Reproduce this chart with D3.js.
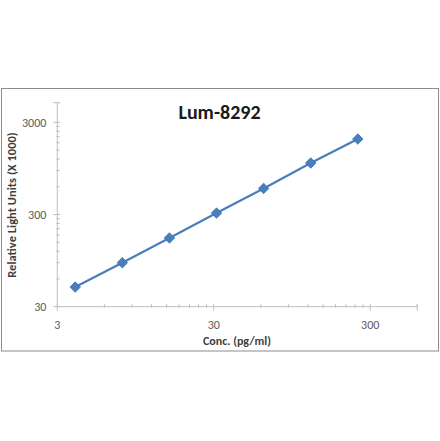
<!DOCTYPE html>
<html>
<head>
<meta charset="utf-8">
<script src="https://cdn.jsdelivr.net/npm/d3@7"></script>
<style>
  body { margin: 0; background: #fff; }
  text { font-family: Carlito, "Open Sans", "Liberation Sans", sans-serif; }
</style>
</head>
<body>
<div id="chart"></div>
<script>
const title = "Lum-8292";
const xLabel = "Conc. (pg/ml)";
const yLabel = "Relative Light Units (X 1000)";
const conc = [3.90625, 7.8125, 15.625, 31.25, 62.5, 125, 250];
const rlu = [49, 90, 167, 311, 576, 1086, 1976];
const xTicks = [3, 30, 300];
const yTicks = [30, 300, 3000];

const width = 440, height = 441;

const svg = d3.select("#chart").append("svg")
    .attr("width", width)
    .attr("height", height);

// outer frame
svg.append("rect")
    .attr("x", 1.5).attr("y", 88.5)
    .attr("width", 437).attr("height", 262.5)
    .attr("fill", "none")
    .attr("stroke", "#8c8c8c")
    .attr("stroke-width", 1);

const x = d3.scaleLog().domain([3, 600]).range([57.3, 417.3]);
const y = d3.scaleLog().domain([30, 4900]).range([306.7, 102.7]);

const axisColor = "#bfbfbf";
const labelColor = "#595959";

// x axis
const gx = svg.append("g");
gx.append("line")
    .attr("x1", x(3)).attr("x2", x(600))
    .attr("y1", y(30)).attr("y2", y(30))
    .attr("stroke", axisColor);
// minor ticks: multiples of the base in each decade
const xMinorTicks = [];
[3, 30, 300].forEach(b => { for (let k = 2; k <= 9; k++) if (b * k <= 600) xMinorTicks.push(b * k); });
gx.selectAll(".minor").data(xMinorTicks).enter().append("line")
    .attr("x1", d => x(d)).attr("x2", d => x(d))
    .attr("y1", y(30) - 2.5).attr("y2", y(30) + 1)
    .attr("stroke", axisColor);
gx.selectAll(".major").data(xTicks.concat([600])).enter().append("line")
    .attr("x1", d => x(d)).attr("x2", d => x(d))
    .attr("y1", y(30) - 3).attr("y2", y(30) + 4)
    .attr("stroke", axisColor);
gx.selectAll(".lab").data(xTicks).enter().append("text")
    .attr("x", d => x(d)).attr("y", y(30) + 22)
    .attr("text-anchor", "middle")
    .attr("font-size", 12)
    .attr("fill", labelColor)
    .text(d => d);

// y axis
const gy = svg.append("g");
gy.append("line")
    .attr("x1", x(3)).attr("x2", x(3))
    .attr("y1", y(30)).attr("y2", y(4900))
    .attr("stroke", axisColor);
const yMinorTicks = [];
[30, 300, 3000].forEach(b => { for (let k = 2; k <= 9; k++) if (b * k <= 4900) yMinorTicks.push(b * k); });
gy.selectAll(".minor").data(yMinorTicks).enter().append("line")
    .attr("x1", x(3) - 1).attr("x2", x(3) + 2.5)
    .attr("y1", d => y(d)).attr("y2", d => y(d))
    .attr("stroke", axisColor);
gy.selectAll(".major").data(yTicks.concat([4900])).enter().append("line")
    .attr("x1", x(3) - 4).attr("x2", x(3) + 3)
    .attr("y1", d => y(d)).attr("y2", d => y(d))
    .attr("stroke", axisColor);
gy.selectAll(".lab").data(yTicks).enter().append("text")
    .attr("x", x(3) - 11).attr("y", d => y(d))
    .attr("dy", "0.35em")
    .attr("text-anchor", "end")
    .attr("font-size", 12)
    .attr("fill", labelColor)
    .text(d => d);

// series
const pts = conc.map((c, i) => [c, rlu[i]]);
const line = d3.line().x(d => x(d[0])).y(d => y(d[1]));
svg.append("path")
    .datum(pts)
    .attr("d", line)
    .attr("fill", "none")
    .attr("stroke", "#4a7ebb")
    .attr("stroke-width", 2.2);

svg.selectAll(".pt").data(pts).enter().append("path")
    .attr("transform", d => "translate(" + x(d[0]) + "," + y(d[1]) + ")")
    .attr("d", d3.symbol().type(d3.symbolDiamond2).size(70))
    .attr("fill", "#4a7ebb")
    .attr("stroke", "#3f72b0")
    .attr("stroke-width", 0.8);

// titles
svg.append("text")
    .attr("x", 219.5).attr("y", 118.5)
    .attr("text-anchor", "middle")
    .attr("font-size", 20)
    .attr("font-weight", "bold")
    .attr("fill", "#1a1a1a")
    .text(title);

svg.append("text")
    .attr("x", 237).attr("y", 345)
    .attr("text-anchor", "middle")
    .attr("font-size", 12)
    .attr("font-weight", "bold")
    .attr("fill", "#404040")
    .text(xLabel);

svg.append("text")
    .attr("transform", "translate(16,205) rotate(-90)")
    .attr("text-anchor", "middle")
    .attr("font-size", 12.5)
    .attr("font-weight", "bold")
    .attr("fill", "#404040")
    .text(yLabel);
</script>
</body>
</html>
